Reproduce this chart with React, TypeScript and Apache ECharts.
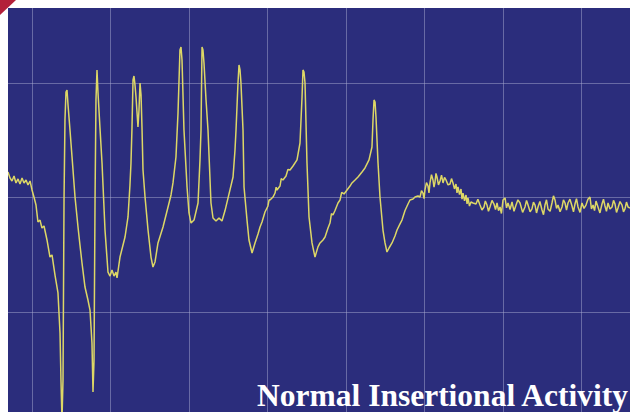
import React, { useEffect, useRef } from "react";
import * as echarts from "echarts";

// Time in ms (100 ms per division), amplitude in µV (100 µV per division)
const timeTicks = [-100, 0, 100, 200, 300, 400, 500, 600, 700, 800];
const amplitudeTicks = [-200, -100, 0, 100, 200];

// Resting baseline before the needle movement
const baselineBefore: [number, number][] = [
  [-30.6, 22.3], [-28.0, 17.0], [-25.5, 14.4], [-22.9, 18.8], [-20.4, 12.7],
  [-17.8, 16.2], [-15.3, 11.8], [-12.7, 17.0], [-10.2, 12.7], [-7.6, 15.3],
  [-5.1, 10.9], [-2.5, 14.4], [0, 6.6], [2.5, 0.4], [5.1, -6.6], [7.6, -21.4],
  [10.2, -19.7], [12.7, -26.6], [15.3, -24.9], [19.1, -37.1], [22.9, -52.0],
  [25.5, -50.2], [29.3, -67.7], [33.1, -83.4], [35.7, -118.3], [36.9, -159.4],
];

// Burst of insertional potentials
const spikeTrain: [number, number][] = [
  [38.2, -194.3], [39.5, -159.4], [40.8, -2.2], [42.0, 67.7], [43.3, 92.1],
  [44.6, 93.9], [45.9, 80.8], [48.4, 59.0], [51.0, 35.4], [54.8, 0.4],
  [58.6, -25.8], [61.1, -41.5], [63.7, -57.2], [67.5, -78.2], [71.3, -89.5],
  [73.9, -98.3], [76.4, -127.1], [77.7, -169.9], [79.0, -142.4], [80.3, -2.2],
  [81.5, 85.2], [82.8, 111.4], [84.1, 91.3], [86.6, 60.7], [89.2, 30.1],
  [93.0, -28.4], [96.8, -65.1], [99.4, -68.6], [101.9, -63.3], [104.5, -68.6],
  [107.0, -65.1], [108.3, -70.3], [112.1, -52.0], [118.5, -34.5], [122.3, -17.0],
  [124.8, 10.9], [126.1, 30.1], [127.4, 61.6], [128.7, 102.6], [129.9, 106.1],
  [131.2, 98.3], [132.5, 87.8], [135.0, 61.6], [136.3, 76.4], [137.6, 100.0],
  [138.9, 89.5], [140.1, 61.6], [141.4, 24.0], [144.0, 0.4], [147.8, -28.4],
  [151.6, -52.0], [154.1, -60.7], [156.7, -56.3], [160.5, -39.7], [166.9, -25.8],
  [173.3, -8.3], [177.1, 2.2], [179.6, 12.7], [183.4, 35.4], [186.0, 73.8],
  [188.5, 128.8], [189.8, 131.4], [191.1, 120.1], [193.6, 59.0], [197.5, 9.2],
  [200.0, -13.5], [202.6, -22.3], [206.4, -19.7], [211.5, -4.8], [214.0, 32.8],
  [215.3, 59.0], [216.6, 131.4], [217.8, 128.8], [219.1, 117.5], [221.7, 85.2],
  [224.2, 59.0], [228.0, -4.8], [230.6, -17.9], [234.4, -20.5], [238.2, -17.9],
  [242.0, -20.5], [245.9, -11.4], [252.2, 6.6], [256.1, 17.9], [258.6, 41.5],
  [259.9, 59.0], [262.4, 100.0], [263.7, 115.7], [265.0, 111.4], [266.2, 100.0],
  [268.8, 59.0], [270.1, 9.2], [273.9, -19.7], [276.4, -37.1], [280.3, -48.5],
  [284.1, -39.7], [287.9, -31.9], [290.5, -25.8], [293.0, -21.4], [296.8, -12.7],
  [300.6, -7.4], [302.0, -2.0], [303.2, -2.2], [307.0, 0.4], [309.6, 3.9], [311.0, 9.0], [312.1, 6.6],
  [315.9, 10.0], [317.5, 16.5], [319.7, 15.3], [323.6, 18.8], [326.0, 24.5], [328.7, 24.0], [332.5, 27.5],
  [337.6, 32.8], [341.4, 47.6], [342.7, 67.7], [344.0, 87.8], [345.2, 111.4],
  [346.5, 109.6], [347.8, 100.0], [350.3, 30.1], [352.9, -17.0], [356.7, -39.7],
  [360.5, -52.0], [364.3, -43.1], [366.9, -39.7], [370.7, -37.1], [373.3, -34.5],
  [377.1, -26.6], [379.6, -22.3], [381.5, -14.0], [383.4, -15.3], [386.0, -11.4], [389.8, -4.8],
  [392.4, -2.2], [394.5, 4.5], [397.5, 3.1], [401.3, 6.6], [405.1, 10.0], [407.6, 12.7],
  [411.5, 15.3], [415.3, 17.9], [420.4, 22.3], [424.2, 25.8], [429.3, 32.8],
  [433.1, 44.1], [434.4, 67.7], [435.7, 85.2], [437.0, 83.4], [438.2, 70.3],
  [440.8, 30.1], [443.3, 0.4], [447.1, -28.4], [449.7, -39.7], [452.2, -47.6],
];

// Recovery toward baseline
const recovery: [number, number][] = [
  [454.8, -44.1], [458.6, -39.7], [462.4, -33.6], [465.0, -28.4], [468.8, -23.1],
  [471.3, -19.7], [475.2, -11.4], [479.0, -5.7], [481.5, -2.2], [485.4, -1.3],
  [487.9, 0.4], [491.7, 1.3], [494.3, 0.4], [496.2, 6.0], [498.1, 3.9],
  [499.4, -1.0], [500.6, 6.6], [502.5, 13.0], [504.5, 10.0], [505.7, 4.0],
  [507.0, 12.7], [508.9, 20.0], [510.8, 15.3], [512.1, 9.0], [513.4, 13.5],
  [514.6, 21.0], [515.9, 17.9], [517.8, 11.0], [519.8, 14.4], [521.7, 19.5],
  [523.6, 12.7], [525.5, 17.5], [527.4, 15.3], [530.0, 11.0], [532.5, 11.8],
  [534.4, 16.5], [536.3, 12.7], [538.2, 7.5], [540.1, 11.8], [541.4, 4.0],
  [542.7, 9.2], [544.6, 2.5], [546.5, 7.4], [547.8, -1.5], [549.1, 3.9],
  [551.0, -3.0], [552.9, 2.2], [554.2, -5.5], [555.4, -0.4], [557.3, -7.5],
  [559.2, -3.9], [561.8, -4.8],
];

// Quiet baseline after the burst
const baselineAfter: [number, number][] = [
  [565.6, -5.7], [568.0, -1.5], [570.7, -6.6], [573.2, -11.0], [575.8, -8.3],
  [577.5, -3.0], [579.6, -6.6], [581.5, -12.0], [583.4, -8.3], [586.0, -2.5],
  [588.5, -5.7], [590.5, -10.5], [592.4, -4.8], [594.3, -11.5], [596.2, -8.3],
  [598.0, -14.0], [600.0, -2.2], [602.6, -0.4], [604.5, -9.0], [606.4, -4.8],
  [609.0, -10.5], [611.5, -3.9], [614.0, -12.0], [616.6, -6.6], [619.0, -2.0],
  [621.7, -4.8], [625.0, -13.0], [628.0, -8.3], [630.0, -2.5], [631.9, -6.6],
  [634.5, -12.5], [636.9, -10.0], [638.8, -4.0], [640.8, -6.6], [642.7, -13.5],
  [644.6, -8.3], [647.0, -3.5], [649.7, -10.9], [651.6, -15.0], [653.5, -6.6],
  [655.4, -2.0], [657.3, -10.0], [660.0, -12.0], [662.4, -4.8], [664.3, 1.5],
  [666.3, -2.2], [668.2, -9.5], [670.1, -6.6], [672.7, -12.5], [675.2, -8.3],
  [677.0, -2.0], [679.0, -4.8], [680.9, -11.0], [682.8, -4.8], [685.3, -1.5],
  [687.9, -7.4], [689.8, -12.5], [691.7, -5.7], [693.6, -1.0], [695.6, -8.3],
  [698.1, -13.0], [700.6, -4.8], [703.2, -9.5], [705.7, -6.6], [708.2, -1.5],
  [710.8, 0.4], [712.7, -10.0], [714.7, -6.6], [716.6, -11.5], [718.5, -3.1],
  [721.0, -8.3], [723.5, -13.5], [726.1, -5.7], [728.0, -1.5], [729.9, -7.4],
  [731.8, -12.0], [733.8, -4.8], [736.3, -10.0], [738.9, -8.3], [740.8, -2.5],
  [742.7, -5.7], [744.6, -13.0], [746.5, -9.2], [749.0, -3.5], [751.6, -6.6],
  [753.5, -12.5], [755.4, -10.0], [757.3, -4.0], [759.3, -8.3], [761.8, -9.2],
];

const title = "Normal Insertional Activity";

export default function App() {
  const ref = useRef<HTMLDivElement>(null);

  useEffect(() => {
    if (!ref.current) return;
    const chart = echarts.init(ref.current, undefined, { renderer: "svg" });
    const trace = [...baselineBefore, ...spikeTrain, ...recovery, ...baselineAfter];
    const gridColor = "rgba(165,168,205,0.5)";
    chart.setOption({
      animation: false,
      backgroundColor: "#ffffff",
      grid: {
        left: -46.5,
        right: -30,
        top: -31.5,
        bottom: -14.5,
        show: true,
        backgroundColor: "#2B2D7C",
        borderWidth: 0,
        containLabel: false,
        outerBoundsMode: "none",
      },
      xAxis: {
        type: "value",
        min: timeTicks[0],
        max: timeTicks[timeTicks.length - 1],
        interval: 100,
        axisLine: { show: false },
        axisTick: { show: false },
        axisLabel: { show: false },
        splitLine: { show: true, lineStyle: { color: gridColor, width: 1 } },
      },
      yAxis: {
        type: "value",
        min: amplitudeTicks[0],
        max: amplitudeTicks[amplitudeTicks.length - 1],
        interval: 100,
        axisLine: { show: false },
        axisTick: { show: false },
        axisLabel: { show: false },
        splitLine: { show: true, lineStyle: { color: gridColor, width: 1 } },
      },
      series: [
        {
          type: "line",
          data: trace,
          showSymbol: false,
          symbol: "none",
          clip: true,
          lineStyle: { color: "#ddd766", width: 1.5 },
          z: 3,
        },
      ],
      graphic: [
        { type: "rect", z: 100, shape: { x: 0, y: 0, width: 8, height: 412 }, style: { fill: "#ffffff" } },
        { type: "rect", z: 100, shape: { x: 0, y: 0, width: 630, height: 8 }, style: { fill: "#ffffff" } },
        {
          type: "polygon",
          z: 101,
          shape: { points: [[0, 0], [16, 0], [0, 15]] },
          style: { fill: "#B3203A" },
        },
        {
          type: "text",
          z: 102,
          x: 628,
          y: 395,
          style: {
            text: title,
            fill: "#ffffff",
            font: "bold 31.5px 'Liberation Serif', 'Times New Roman', serif",
            align: "right",
            verticalAlign: "middle",
          },
        },
      ],
    });
    return () => chart.dispose();
  }, []);

  return (
    <div
      ref={ref}
      style={{ position: "fixed", left: 0, top: 0, width: 630, height: 412 }}
    />
  );
}
